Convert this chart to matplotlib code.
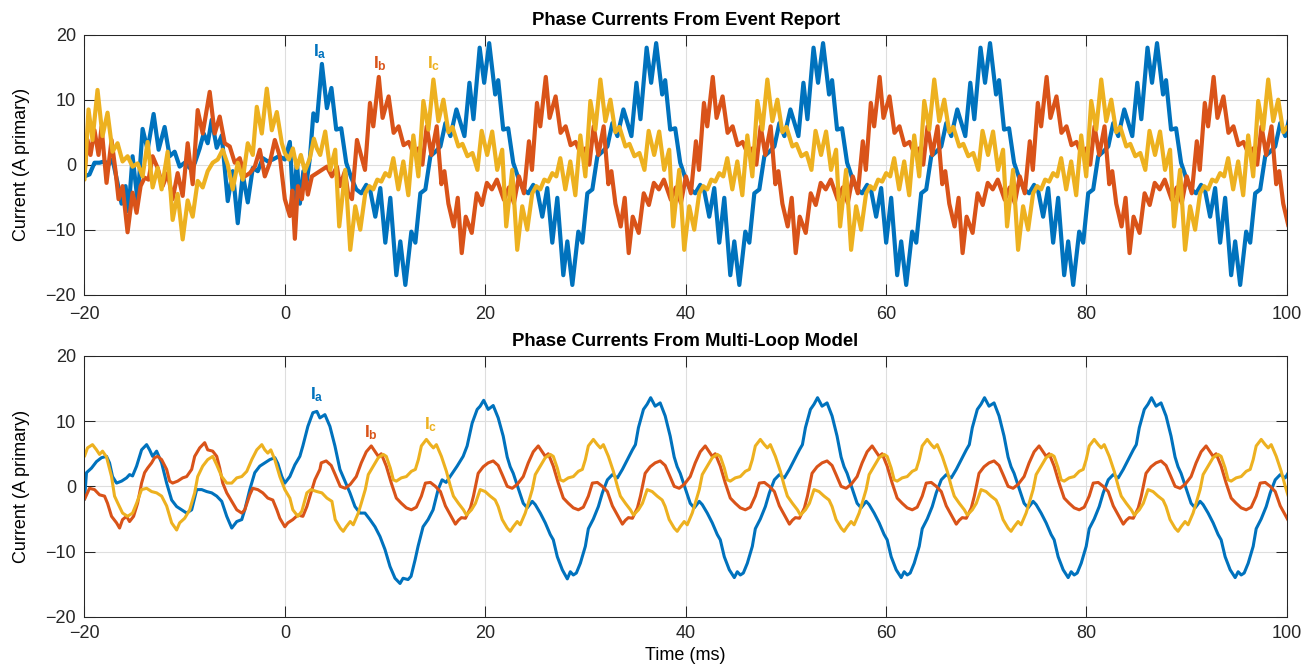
import matplotlib
matplotlib.use("Agg")
import matplotlib.pyplot as plt

plt.rcParams['font.family'] = ['Liberation Sans', 'DejaVu Sans']
plt.rcParams['mathtext.fontset'] = 'custom'
plt.rcParams['mathtext.bf'] = 'Liberation Sans:bold'
plt.rcParams['mathtext.rm'] = 'Liberation Sans'

C_A, C_B, C_C = '#0072BD', '#D95319', '#EDB120'

# ---------------- Top panel: event report (time ms, current A) ----------------
ia_top_t = [
    -20.0, -19.5, -19.0, -18.5, -18.0, -17.6, -17.2, -16.7, -16.3, -15.9, -15.6, -15.2, -14.7, -14.2, -13.7, -13.1,
    -12.6, -12.0, -11.5, -11.0, -10.5, -10.0, -9.5, -9.0, -8.5, -8.1, -7.7, -7.3, -6.8, -6.3, -5.7, -5.2, -4.7, -4.2,
    -3.7, -3.2, -2.7, -2.2, -1.7, -1.2, -0.6, 0.0, 0.5, 0.85, 1.2, 1.5, 1.85, 2.1, 2.5, 2.85, 3.2, 3.7, 4.2, 4.65,
    5.13, 5.63, 6.13, 6.63, 7.13, 7.63, 8.13, 8.53, 9.03, 9.53, 10.03, 10.53, 11.13, 11.53, 12.03, 12.63, 13.03, 13.53,
    14.03, 14.53, 15.03, 15.53, 16.03, 16.53, 17.13, 17.93, 18.43, 18.83,
    19.45, 19.9, 20.4, 21.0, 21.3, 21.8, 22.3, 22.8, 23.3, 23.8, 24.3, 24.8, 25.2, 25.7, 26.2, 26.7, 27.2, 27.8, 28.2,
    28.7, 29.3, 29.7, 30.2, 30.7, 31.2, 31.7, 32.2, 32.7, 33.2, 33.8, 34.6, 35.1, 35.5,
    36.12, 36.57, 37.07, 37.67, 37.97, 38.47, 38.97, 39.47, 39.97, 40.47, 40.97, 41.47, 41.87, 42.37, 42.87, 43.37,
    43.87, 44.47, 44.87, 45.37, 45.97, 46.37, 46.87, 47.37, 47.87, 48.37, 48.87, 49.37, 49.87, 50.47, 51.27, 51.77, 52.17,
    52.78, 53.23, 53.73, 54.33, 54.63, 55.13, 55.63, 56.13, 56.63, 57.13, 57.63, 58.13, 58.53, 59.03, 59.53, 60.03,
    60.53, 61.13, 61.53, 62.03, 62.63, 63.03, 63.53, 64.03, 64.53, 65.03, 65.53, 66.03, 66.53, 67.13, 67.93, 68.43, 68.83,
    69.45, 69.9, 70.4, 71.0, 71.3, 71.8, 72.3, 72.8, 73.3, 73.8, 74.3, 74.8, 75.2, 75.7, 76.2, 76.7, 77.2, 77.8, 78.2,
    78.7, 79.3, 79.7, 80.2, 80.7, 81.2, 81.7, 82.2, 82.7, 83.2, 83.8, 84.6, 85.1, 85.5,
    86.12, 86.57, 87.07, 87.67, 87.97, 88.47, 88.97, 89.47, 89.97, 90.47, 90.97, 91.47, 91.87, 92.37, 92.87, 93.37,
    93.87, 94.47, 94.87, 95.37, 95.97, 96.37, 96.87, 97.37, 97.87, 98.37, 98.87, 99.37, 99.87, 100.47]
ia_top_v = [
    -1.8, -1.5, 0.3, 0.3, 0.5, 0, 0.8, -2.8, -6, -3.3, -7.2, 1.3, -5.6, 5.5, 2.3, 7.8,
    2.3, 5.8, 1.3, 2, -0.3, 0.3, -0.5, 0.2, 2.5, 4.8, 3.3, 6.9, 2.6, 4.5, -5.6, -1, -9, -1.5,
    -5.8, -0.5, -1, 1, 0.5, 0.8, 1.3, 0.8, 3.5, -6.5, 0.5, -6, -1, -3.5, 1, 7.9, 6.7, 15.5, 8.7, 11.8,
    5.4, 5.6, 0.3, -2, -3.8, -4.4, -3.1, -4, -8, -3.6, -12, -5.1, -17, -11.8, -18.5, -10.3, -12, -4.4,
    -3.8, 1.3, 2.0, 2.8, 6.4, 4.4, 8.5, 4.4, 12.6, 7,
    18, 12.6, 18.7, 10.8, 13, 5.4, 5.6, 0.3, -2, -3.8, -4.4, -3.1, -4, -8, -3.6, -12, -5.1, -17, -11.8,
    -18.5, -10.3, -12, -4.4, -3.8, 1.3, 2.0, 2.8, 6.4, 4.4, 8.5, 4.4, 12.6, 7,
    18, 12.6, 18.7, 10.8, 13, 5.4, 5.6, 0.3, -2, -3.8, -4.4, -3.1, -4, -8, -3.6, -12,
    -5.1, -17, -11.8, -18.5, -10.3, -12, -4.4, -3.8, 1.3, 2.0, 2.8, 6.4, 4.4, 8.5, 4.4, 12.6, 7,
    18, 12.6, 18.7, 10.8, 13, 5.4, 5.6, 0.3, -2, -3.8, -4.4, -3.1, -4, -8, -3.6, -12,
    -5.1, -17, -11.8, -18.5, -10.3, -12, -4.4, -3.8, 1.3, 2.0, 2.8, 6.4, 4.4, 8.5, 4.4, 12.6, 7,
    18, 12.6, 18.7, 10.8, 13, 5.4, 5.6, 0.3, -2, -3.8, -4.4, -3.1, -4, -8, -3.6, -12, -5.1, -17, -11.8,
    -18.5, -10.3, -12, -4.4, -3.8, 1.3, 2.0, 2.8, 6.4, 4.4, 8.5, 4.4, 12.6, 7,
    18, 12.6, 18.7, 10.8, 13, 5.4, 5.6, 0.3, -2, -3.8, -4.4, -3.1, -4, -8, -3.6, -12,
    -5.1, -17, -11.8, -18.5, -10.3, -12, -4.4, -3.8, 1.3, 2.0, 2.8, 6.4, 4.4, 8.5]

ib_top_t = [
    -20.0, -19.7, -19.4, -19.0, -18.6, -18.3, -17.8, -17.3, -16.9, -16.6, -16.2, -15.7, -15.2, -14.8, -14.4, -14.0,
    -13.6, -13.2, -12.7, -12.2, -11.7, -11.2, -10.7, -10.2, -9.7, -9.2, -8.7, -8.2, -7.5, -7.0, -6.5, -6.0, -5.5,
    -5.0, -4.5, -4.0, -3.5, -3.0, -2.5, -2.0, -1.5, -1.0, -0.5, 0.0, 0.5, 0.75, 1.0, 1.3, 1.7, 2.0, 2.3, 2.7, 3.2,
    3.7, 4.2, 4.7, 5.2, 5.5, 6.0, 6.3, 6.7, 7.2,
    8.0, 8.5, 8.83, 9.38, 9.76, 10.36, 10.86, 11.36, 11.86, 12.36, 12.83, 13.33, 13.73, 14.16, 14.63, 15.16, 15.63,
    15.93, 16.33, 16.86, 17.26, 17.66, 18.06, 18.66, 19.16,
    19.67, 20.17, 20.67, 21.17, 21.87, 22.37, 22.87, 23.37, 23.87, 24.37, 24.67, 25.17, 25.5, 26.05, 26.43, 27.03,
    27.53, 28.03, 28.53, 29.03, 29.5, 30.0, 30.4, 30.83, 31.3, 31.83, 32.3, 32.6, 33.0, 33.53, 33.93, 34.33, 34.73,
    35.33, 35.83,
    36.34, 36.84, 37.34, 37.84, 38.54, 39.04, 39.54, 40.04, 40.54, 41.04, 41.34, 41.84, 42.17, 42.72, 43.1, 43.7,
    44.2, 44.7, 45.2, 45.7, 46.17, 46.67, 47.07, 47.5, 47.97, 48.5, 48.97, 49.27, 49.67, 50.2, 50.6, 51.0, 51.4,
    52.0, 52.5,
    53.0, 53.5, 54.0, 54.5, 55.2, 55.7, 56.2, 56.7, 57.2, 57.7, 58.0, 58.5, 58.83, 59.38, 59.76, 60.36, 60.86, 61.36,
    61.86, 62.36, 62.83, 63.33, 63.73, 64.16, 64.63, 65.16, 65.63, 65.93, 66.33, 66.86, 67.26, 67.66, 68.06, 68.66,
    69.16,
    69.67, 70.17, 70.67, 71.17, 71.87, 72.37, 72.87, 73.37, 73.87, 74.37, 74.67, 75.17, 75.5, 76.05, 76.43, 77.03,
    77.53, 78.03, 78.53, 79.03, 79.5, 80.0, 80.4, 80.83, 81.3, 81.83, 82.3, 82.6, 83.0, 83.53, 83.93, 84.33, 84.73,
    85.33, 85.83,
    86.34, 86.84, 87.34, 87.84, 88.54, 89.04, 89.54, 90.04, 90.54, 91.04, 91.34, 91.84, 92.17, 92.72, 93.1, 93.7,
    94.2, 94.7, 95.2, 95.7, 96.17, 96.67, 97.07, 97.5, 97.97, 98.5, 98.97, 99.27, 99.67, 100.2]
ib_top_v = [
    -1.3, 3.8, 1.5, 5.3, 1.5, 5.8, -2.8, 3.8, -1, -5.3, -3.3, -10.4, -4.3, -7.4, -3.3, -2,
    -2.3, 1.3, -0.5, -3.3, -1.3, -5.3, -1.3, -4.8, 3.3, -3, 8.4, 4.8, 11.2, 4.8, 7.4, 3.3, 2.8,
    0.3, 1, -1.8, -1.3, -0.3, 2.3, -1.8, 0.3, 3.8, 1.3, -5.3, -7.9, -4, -11.4, -3.3, -5.3, -1.3, -4.6, -1.8, -1.3,
    -0.8, -0.3, -1.8, -0.3, -3.3, -1, -4.3, -5.3, 3.8,
    -0.8, 9.5, 5.9, 13.5, 7.2, 10.5, 4.9, 5.9, 3.0, 3.5, 1.8, 2.5, 0, 5.9, 1.5, 5.9, -3,
    -1, -6, -9.5, -5.1, -13.6, -8, -10.5, -4.4,
    -6.2, -2.8, -3.8, -2.3, -5.4, -3.5, -5.9, -1.8, -4.4, 3.6, -0.8, 9.5, 5.9, 13.5, 7.2, 10.5,
    4.9, 5.9, 3.0, 3.5, 1.8, 2.5, 0, 5.9, 1.5, 5.9, -3, -1, -6, -9.5, -5.1, -13.6, -8,
    -10.5, -4.4,
    -6.2, -2.8, -3.8, -2.3, -5.4, -3.5, -5.9, -1.8, -4.4, 3.6, -0.8, 9.5, 5.9, 13.5, 7.2, 10.5,
    4.9, 5.9, 3.0, 3.5, 1.8, 2.5, 0, 5.9, 1.5, 5.9, -3, -1, -6, -9.5, -5.1, -13.6, -8,
    -10.5, -4.4,
    -6.2, -2.8, -3.8, -2.3, -5.4, -3.5, -5.9, -1.8, -4.4, 3.6, -0.8, 9.5, 5.9, 13.5, 7.2, 10.5, 4.9, 5.9,
    3.0, 3.5, 1.8, 2.5, 0, 5.9, 1.5, 5.9, -3, -1, -6, -9.5, -5.1, -13.6, -8, -10.5,
    -4.4,
    -6.2, -2.8, -3.8, -2.3, -5.4, -3.5, -5.9, -1.8, -4.4, 3.6, -0.8, 9.5, 5.9, 13.5, 7.2, 10.5,
    4.9, 5.9, 3.0, 3.5, 1.8, 2.5, 0, 5.9, 1.5, 5.9, -3, -1, -6, -9.5, -5.1, -13.6, -8,
    -10.5, -4.4,
    -6.2, -2.8, -3.8, -2.3, -5.4, -3.5, -5.9, -1.8, -4.4, 3.6, -0.8, 9.5, 5.9, 13.5, 7.2, 10.5,
    4.9, 5.9, 3.0, 3.5, 1.8, 2.5, 0, 5.9, 1.5, 5.9, -3, -1, -6, -9.5]

ic_top_t = [
    -20.0, -19.6, -19.2, -18.7, -18.2, -17.7, -17.2, -16.7, -16.2, -15.7, -15.2, -14.7, -14.2, -13.7, -13.2, -12.7,
    -12.3, -11.7, -11.2, -10.7, -10.2, -9.7, -9.2, -8.7, -8.2, -7.7, -7.2, -6.7, -6.2, -5.7, -5.2, -4.7, -4.2, -3.7,
    -3.2, -2.8, -2.3, -1.8, -1.3, -0.8, -0.3, 0.0, 0.4, 0.8, 1.2, 1.6, 2.0, 2.5, 2.9, 3.2,
    3.53, 4.03, 4.53, 5.03, 5.43, 6.03, 6.53, 7.03, 7.53, 8.03, 8.43, 8.83, 9.23, 9.63, 10.03, 10.43, 10.83, 11.33,
    11.83, 12.33, 12.83, 13.33, 13.83, 14.33, 14.83, 15.33, 15.83, 16.33, 16.73, 17.33, 17.73, 18.23, 18.73, 19.23,
    19.65, 20.2, 20.7, 21.2, 21.7, 22.1, 22.7, 23.2, 23.7, 24.2, 24.7, 25.1, 25.5, 25.9, 26.3, 26.7, 27.1, 27.5, 28.0,
    28.5, 29.0, 29.5, 30.0, 30.5, 31.0, 31.5, 32.0, 32.5, 33.0, 33.4, 34.0, 34.4, 34.9, 35.4, 35.9,
    36.32, 36.87, 37.37, 37.87, 38.37, 38.77, 39.37, 39.87, 40.37, 40.87, 41.37, 41.77, 42.17, 42.57, 42.97, 43.37,
    43.77, 44.17, 44.67, 45.17, 45.67, 46.17, 46.67, 47.17, 47.67, 48.17, 48.67, 49.17, 49.67, 50.07, 50.67, 51.07,
    51.57, 52.07, 52.57,
    52.98, 53.53, 54.03, 54.53, 55.03, 55.43, 56.03, 56.53, 57.03, 57.53, 58.03, 58.43, 58.83, 59.23, 59.63, 60.03,
    60.43, 60.83, 61.33, 61.83, 62.33, 62.83, 63.33, 63.83, 64.33, 64.83, 65.33, 65.83, 66.33, 66.73, 67.33, 67.73,
    68.23, 68.73, 69.23,
    69.65, 70.2, 70.7, 71.2, 71.7, 72.1, 72.7, 73.2, 73.7, 74.2, 74.7, 75.1, 75.5, 75.9, 76.3, 76.7, 77.1, 77.5, 78.0,
    78.5, 79.0, 79.5, 80.0, 80.5, 81.0, 81.5, 82.0, 82.5, 83.0, 83.4, 84.0, 84.4, 84.9, 85.4, 85.9,
    86.32, 86.87, 87.37, 87.87, 88.37, 88.77, 89.37, 89.87, 90.37, 90.87, 91.37, 91.77, 92.17, 92.57, 92.97, 93.37,
    93.77, 94.17, 94.67, 95.17, 95.67, 96.17, 96.67, 97.17, 97.67, 98.17, 98.67, 99.17, 99.67, 100.07]
ic_top_v = [
    -2.3, 8.5, 3.8, 11.5, 4.4, 8, 2, 3.3, 0.5, 1.3, -0.3, 0.2, -1.8, 3.5, -3.5, -0.5,
    -3.8, 2, -8.5, -4.5, -11.5, -5.5, -8, -2.5, -3.5, -1, 0.3, 0.8, 2.3, 0, -3.8, 0.3, -2.3, 3.3,
    1.5, 8.9, 4.8, 11.7, 5.3, 8.1, 3.3, 1.8, 0.8, 2.5, -0.5, 1.5, -1, 1, 4, 2.5,
    1.5, 5.1, -0.8, 2.3, -9.5, -0.8, -13.1, -6.4, -10, -4.4, -3.3, -3.8, -2.3, -2.6, -1.3, -1.8, 1, -3.8,
    0.5, -4.7, 4.5, -1.8, 9.8, 5.4, 13.1, 6.7, 10, 5, 5.8, 2.8, 3.2, 1.3, 1.8, -0.8,
    5.2, 1.5, 5.1, -0.8, 2.3, -9.5, -0.8, -13.1, -6.4, -10, -4.4, -3.3, -3.8, -2.3, -2.6, -1.3, -1.8, 1, -3.8,
    0.5, -4.7, 4.5, -1.8, 9.8, 5.4, 13.1, 6.7, 10, 5, 5.8, 2.8, 3.2, 1.3, 1.8, -0.8,
    5.2, 1.5, 5.1, -0.8, 2.3, -9.5, -0.8, -13.1, -6.4, -10, -4.4, -3.3, -3.8, -2.3, -2.6, -1.3,
    -1.8, 1, -3.8, 0.5, -4.7, 4.5, -1.8, 9.8, 5.4, 13.1, 6.7, 10, 5, 5.8, 2.8, 3.2,
    1.3, 1.8, -0.8,
    5.2, 1.5, 5.1, -0.8, 2.3, -9.5, -0.8, -13.1, -6.4, -10, -4.4, -3.3, -3.8, -2.3, -2.6, -1.3,
    -1.8, 1, -3.8, 0.5, -4.7, 4.5, -1.8, 9.8, 5.4, 13.1, 6.7, 10, 5, 5.8, 2.8, 3.2,
    1.3, 1.8, -0.8,
    5.2, 1.5, 5.1, -0.8, 2.3, -9.5, -0.8, -13.1, -6.4, -10, -4.4, -3.3, -3.8, -2.3, -2.6, -1.3, -1.8, 1, -3.8,
    0.5, -4.7, 4.5, -1.8, 9.8, 5.4, 13.1, 6.7, 10, 5, 5.8, 2.8, 3.2, 1.3, 1.8, -0.8,
    5.2, 1.5, 5.1, -0.8, 2.3, -9.5, -0.8, -13.1, -6.4, -10, -4.4, -3.3, -3.8, -2.3, -2.6, -1.3,
    -1.8, 1, -3.8, 0.5, -4.7, 4.5, -1.8, 9.8, 5.4, 13.1, 6.7, 10, 5, 5.8]

# ---------------- Bottom panel: multi-loop model ----------------
ia_bot_t = [
    -20.0, -19.8, -19.3, -18.8, -18.3, -17.8, -17.5, -17.2, -16.8, -16.3, -15.8, -15.5, -15.2, -14.8, -14.3, -13.8,
    -13.5, -13.2, -12.8, -12.3, -11.8, -11.3, -10.8, -10.3, -9.8, -9.3, -8.8, -8.3, -7.8, -7.3, -6.8, -6.3, -5.8,
    -5.3, -4.8, -4.3, -4.0, -3.5, -3.0, -2.5, -2.0, -1.5, -1.0, -0.7, -0.3, 0.0, 0.5, 1.0, 1.5, 1.8, 2.3, 2.8, 3.2,
    3.5, 4.0, 4.5, 5.0, 5.5, 6.0, 6.5, 7.0,
    7.5, 8.0, 8.5, 9.0, 9.5, 10.0, 10.5, 11.0, 11.5, 11.8, 12.3, 12.6, 13.0, 13.3, 13.8, 14.3, 14.8, 15.3, 15.7,
    16.1, 16.5, 17.2, 17.8, 18.2, 18.7, 19.2,
    19.5, 19.85, 20.3, 20.8, 21.3, 21.8, 22.2, 22.5, 22.8, 23.3, 23.8, 24.2, 24.7, 25.0, 25.5, 26.0, 26.5, 26.8, 27.2,
    27.7, 28.2, 28.5, 28.8, 29.1, 29.5, 30.0, 30.3, 30.8, 31.3, 31.7, 32.2, 32.7, 33.2, 33.7, 34.2, 34.7, 35.0, 35.3,
    35.8,
    36.17, 36.52, 36.97, 37.47, 37.97, 38.47, 38.87, 39.17, 39.47, 39.97, 40.47, 40.87, 41.37, 41.67, 42.17, 42.67,
    43.17, 43.47, 43.87, 44.37, 44.87, 45.17, 45.47, 45.77, 46.17, 46.67, 46.97, 47.47, 47.97, 48.37, 48.87, 49.37,
    49.87, 50.37, 50.87, 51.37, 51.67, 51.97, 52.47,
    52.83, 53.18, 53.63, 54.13, 54.63, 55.13, 55.53, 55.83, 56.13, 56.63, 57.13, 57.53, 58.03, 58.33, 58.83, 59.33,
    59.83, 60.13, 60.53, 61.03, 61.53, 61.83, 62.13, 62.43, 62.83, 63.33, 63.63, 64.13, 64.63, 65.03, 65.53, 66.03,
    66.53, 67.03, 67.53, 68.03, 68.33, 68.63, 69.13,
    69.5, 69.85, 70.3, 70.8, 71.3, 71.8, 72.2, 72.5, 72.8, 73.3, 73.8, 74.2, 74.7, 75.0, 75.5, 76.0, 76.5, 76.8, 77.2,
    77.7, 78.2, 78.5, 78.8, 79.1, 79.5, 80.0, 80.3, 80.8, 81.3, 81.7, 82.2, 82.7, 83.2, 83.7, 84.2, 84.7, 85.0, 85.3,
    85.8,
    86.17, 86.52, 86.97, 87.47, 87.97, 88.47, 88.87, 89.17, 89.47, 89.97, 90.47, 90.87, 91.37, 91.67, 92.17, 92.67,
    93.17, 93.47, 93.87, 94.37, 94.87, 95.17, 95.47, 95.77, 96.17, 96.67, 96.97, 97.47, 97.97, 98.37, 98.87, 99.37,
    99.87, 100.37]
ia_bot_v = [
    -2.0, 2.1, 2.8, 3.8, 4.4, 4.6, 3.6, 1.5, 0.5, 0.8, 1.3, 1.8, 1.6, 3.1, 5.6, 6.4,
    5.6, 4.6, 5.4, 3.6, 0.5, -2.1, -3.1, -3.6, -4.1, -3.6, -0.5, -0.5, -0.8, -1, -1.5, -2.3, -4.6,
    -6.4, -5.4, -5.1, -3.6, -0.5, 2.1, 3.1, 3.6, 4.1, 4.4, 3.5, 1.5, 0.5, 1.5, 3.3, 4.6, 6.2, 9.2, 11.3, 11.5,
    10.5, 11, 9.2, 6.2, 2.6, 0.8, -1, -3.1,
    -4.1, -4.1, -5.1, -6.2, -7.7, -9.7, -12.3, -14.1, -14.9, -14.1, -14.3, -13.8, -11.3, -9.2, -6.2, -5.1, -3.6, -0.5, 1,
    0.6, 1.5, 3.1, 4.6, 6.2, 9.7, 11.8,
    12.3, 13.2, 11.8, 12.4, 10.5, 7.7, 4.5, 3, 2, -0.3, -2.6, -3.3, -2.3, -2.8, -4.1, -5.6, -7.4, -8.2, -10.8,
    -12.8, -14.2, -13.1, -13.6, -13.3, -11.8, -9.2, -6.5, -5, -3.1, -1, 1, 1.8, 1.3, 2.6, 4.1, 5.6, 6.4, 9,
    11.8,
    12.6, 13.6, 12.3, 12.8, 10.8, 7.7, 4.5, 3, 2, -0.3, -2.6, -3.3, -2.3, -2.8, -4.1, -5.6,
    -7.4, -8.2, -10.8, -12.8, -14.0, -13.1, -13.6, -13.3, -11.8, -9.2, -6.5, -5, -3.1, -1, 1, 1.8,
    1.3, 2.6, 4.1, 5.6, 6.4, 9, 11.8,
    12.6, 13.6, 12.3, 12.8, 10.8, 7.7, 4.5, 3, 2, -0.3, -2.6, -3.3, -2.3, -2.8, -4.1, -5.6,
    -7.4, -8.2, -10.8, -12.8, -14.0, -13.1, -13.6, -13.3, -11.8, -9.2, -6.5, -5, -3.1, -1, 1, 1.8,
    1.3, 2.6, 4.1, 5.6, 6.4, 9, 11.8,
    12.6, 13.6, 12.3, 12.8, 10.8, 7.7, 4.5, 3, 2, -0.3, -2.6, -3.3, -2.3, -2.8, -4.1, -5.6, -7.4, -8.2, -10.8,
    -12.8, -14.0, -13.1, -13.6, -13.3, -11.8, -9.2, -6.5, -5, -3.1, -1, 1, 1.8, 1.3, 2.6, 4.1, 5.6, 6.4, 9,
    11.8,
    12.6, 13.6, 12.3, 12.8, 10.8, 7.7, 4.5, 3, 2, -0.3, -2.6, -3.3, -2.3, -2.8, -4.1, -5.6,
    -7.4, -8.2, -10.8, -12.8, -14.0, -13.1, -13.6, -13.3, -11.8, -9.2, -6.5, -5, -3.1, -1, 1, 1.8,
    1.3, 2.6]

ib_bot_t = [
    -20.0, -19.5, -19.0, -18.5, -18.0, -17.7, -17.3, -16.8, -16.5, -16.2, -15.8, -15.5, -15.1, -14.7, -14.3, -14.0,
    -13.7, -13.3, -13.0, -12.7, -12.3, -11.8, -11.5, -11.2, -10.7, -10.2, -9.8, -9.3, -9.0, -8.5, -8.0, -7.7, -7.2,
    -6.8, -6.5, -6.2, -5.8, -5.3, -4.8, -4.3, -4.0, -3.5, -3.2, -2.7, -2.2, -1.7, -1.2, -0.8, -0.5, 0.0, 0.3, 0.8,
    1.3, 1.8, 2.2, 2.7, 3.0, 3.5,
    3.63, 4.13, 4.63, 5.03, 5.53, 6.03, 6.53, 7.13, 7.63, 8.13, 8.63, 9.03, 9.33, 9.63, 10.13, 10.63, 11.13, 11.63,
    12.13, 12.63, 13.13, 13.63, 14.03, 14.53, 15.03, 15.53, 16.03, 16.53, 17.03, 17.33, 17.63, 18.03, 18.53, 18.83,
    19.3, 19.8, 20.3, 20.8, 21.3, 21.7, 22.2, 22.7, 23.2, 23.8, 24.3, 24.8, 25.3, 25.7, 26.0, 26.3, 26.8, 27.3,
    27.8, 28.3, 28.8, 29.3, 29.8, 30.3, 30.7, 31.2, 31.7, 32.2, 32.7, 33.2, 33.7, 34.0, 34.3, 34.7, 35.2, 35.5,
    35.97, 36.47, 36.97, 37.47, 37.97, 38.37, 38.87, 39.37, 39.87, 40.47, 40.97, 41.47, 41.97, 42.37, 42.67, 42.97,
    43.47, 43.97, 44.47, 44.97, 45.47, 45.97, 46.47, 46.97, 47.37, 47.87, 48.37, 48.87, 49.37, 49.87, 50.37, 50.67,
    50.97, 51.37, 51.87, 52.17,
    52.63, 53.13, 53.63, 54.13, 54.63, 55.03, 55.53, 56.03, 56.53, 57.13, 57.63, 58.13, 58.63, 59.03, 59.33, 59.63,
    60.13, 60.63, 61.13, 61.63, 62.13, 62.63, 63.13, 63.63, 64.03, 64.53, 65.03, 65.53, 66.03, 66.53, 67.03, 67.33,
    67.63, 68.03, 68.53, 68.83,
    69.3, 69.8, 70.3, 70.8, 71.3, 71.7, 72.2, 72.7, 73.2, 73.8, 74.3, 74.8, 75.3, 75.7, 76.0, 76.3, 76.8, 77.3,
    77.8, 78.3, 78.8, 79.3, 79.8, 80.3, 80.7, 81.2, 81.7, 82.2, 82.7, 83.2, 83.7, 84.0, 84.3, 84.7, 85.2, 85.5,
    85.97, 86.47, 86.97, 87.47, 87.97, 88.37, 88.87, 89.37, 89.87, 90.47, 90.97, 91.47, 91.97, 92.37, 92.67, 92.97,
    93.47, 93.97, 94.47, 94.97, 95.47, 95.97, 96.47, 96.97, 97.37, 97.87, 98.37, 98.87, 99.37, 99.87, 100.37]
ib_bot_v = [
    -2, -0.3, -0.5, -1.3, -1.5, -2.6, -4.6, -5.6, -6.4, -5.1, -4.6, -5.4, -4.6, -2.6, 0.5, 2.1,
    2.8, 3.6, 4.4, 4.6, 4.1, 2.6, 0.8, 0.5, 0.8, 1.3, 1.5, 2.6, 4.6, 5.9, 6.7, 5.6, 5.4,
    4.6, 2.8, 0.5, -1, -2.3, -3.6, -4.1, -3.6, -1.3, -0.3, -0.5, -1, -1.8, -2.1, -3.6, -4.9, -6.2, -5.6, -5.1,
    -4.4, -4.6, -3.1, -0.5, 1, 2.6,
    3.6, 3.9, 3.2, 1.8, 0, -0.3, 0.3, 1.5, 3.6, 5.3, 6.2, 5.3, 4.6, 5, 3.1, 0.5, -1.8, -2.6,
    -3.3, -3.6, -3.2, -1.5, 0.5, 0.6, 0, -0.8, -3, -4.4, -5.8, -5.2, -4.8, -4.9, -3.3, -1.5,
    2, 3, 3.6, 3.9, 3.2, 1.8, 0, -0.3, 0.3, 1.5, 3.6, 5.3, 6.2, 5.3, 4.6, 5, 3.1, 0.5,
    -1.8, -2.6, -3.3, -3.6, -3.2, -1.5, 0.5, 0.6, 0, -0.8, -3, -4.4, -5.8, -5.2, -4.8, -4.9, -3.3, -1.5,
    2, 3, 3.6, 3.9, 3.2, 1.8, 0, -0.3, 0.3, 1.5, 3.6, 5.3, 6.2, 5.3, 4.6, 5,
    3.1, 0.5, -1.8, -2.6, -3.3, -3.6, -3.2, -1.5, 0.5, 0.6, 0, -0.8, -3, -4.4, -5.8, -5.2,
    -4.8, -4.9, -3.3, -1.5,
    2, 3, 3.6, 3.9, 3.2, 1.8, 0, -0.3, 0.3, 1.5, 3.6, 5.3, 6.2, 5.3, 4.6, 5,
    3.1, 0.5, -1.8, -2.6, -3.3, -3.6, -3.2, -1.5, 0.5, 0.6, 0, -0.8, -3, -4.4, -5.8, -5.2,
    -4.8, -4.9, -3.3, -1.5,
    2, 3, 3.6, 3.9, 3.2, 1.8, 0, -0.3, 0.3, 1.5, 3.6, 5.3, 6.2, 5.3, 4.6, 5, 3.1, 0.5,
    -1.8, -2.6, -3.3, -3.6, -3.2, -1.5, 0.5, 0.6, 0, -0.8, -3, -4.4, -5.8, -5.2, -4.8, -4.9, -3.3, -1.5,
    2, 3, 3.6, 3.9, 3.2, 1.8, 0, -0.3, 0.3, 1.5, 3.6, 5.3, 6.2, 5.3, 4.6, 5,
    3.1, 0.5, -1.8, -2.6, -3.3, -3.6, -3.2, -1.5, 0.5, 0.6, 0, -0.8, -3, -4.4, -5.8]

ic_bot_t = [
    -20.0, -19.7, -19.2, -18.8, -18.5, -18.2, -17.8, -17.3, -17.0, -16.7, -16.2, -15.7, -15.2, -14.8, -14.3, -13.8,
    -13.3, -12.8, -12.3, -11.8, -11.3, -10.8, -10.5, -10.0, -9.5, -9.0, -8.7, -8.2, -7.7, -7.2, -6.8, -6.3, -5.8,
    -5.3, -4.8, -4.3, -3.8, -3.3, -2.8, -2.3, -2.0, -1.7, -1.4, -1.0, -0.5, 0.0, 0.5, 0.8, 1.3, 1.7, 2.2, 2.6, 3.2,
    3.7, 4.2, 4.7,
    5.03, 5.53, 5.83, 6.13, 6.53, 6.83, 7.33, 7.63, 8.03, 8.33, 8.83, 9.33, 9.83, 10.13, 10.53, 10.83, 11.13, 11.63,
    12.13, 12.63, 13.03, 13.33, 13.63, 14.13, 14.53, 14.83, 15.13, 15.63, 16.13, 16.53, 16.83, 17.33, 17.83, 18.13,
    18.63, 19.03,
    19.5, 20.0, 20.5, 21.0, 21.3, 21.7, 22.2, 22.5, 22.8, 23.2, 23.5, 24.0, 24.3, 24.7, 25.0, 25.5, 26.0, 26.5, 26.8,
    27.2, 27.5, 27.8, 28.3, 28.8, 29.3, 29.7, 30.0, 30.3, 30.8, 31.2, 31.5, 31.8, 32.3, 32.8, 33.2, 33.5, 34.0, 34.5,
    34.8, 35.3, 35.7,
    36.17, 36.67, 37.17, 37.67, 37.97, 38.37, 38.87, 39.17, 39.47, 39.87, 40.17, 40.67, 40.97, 41.37, 41.67, 42.17,
    42.67, 43.17, 43.47, 43.87, 44.17, 44.47, 44.97, 45.47, 45.97, 46.37, 46.67, 46.97, 47.47, 47.87, 48.17, 48.47,
    48.97, 49.47, 49.87, 50.17, 50.67, 51.17, 51.47, 51.97, 52.37,
    52.83, 53.33, 53.83, 54.33, 54.63, 55.03, 55.53, 55.83, 56.13, 56.53, 56.83, 57.33, 57.63, 58.03, 58.33, 58.83,
    59.33, 59.83, 60.13, 60.53, 60.83, 61.13, 61.63, 62.13, 62.63, 63.03, 63.33, 63.63, 64.13, 64.53, 64.83, 65.13,
    65.63, 66.13, 66.53, 66.83, 67.33, 67.83, 68.13, 68.63, 69.03,
    69.5, 70.0, 70.5, 71.0, 71.3, 71.7, 72.2, 72.5, 72.8, 73.2, 73.5, 74.0, 74.3, 74.7, 75.0, 75.5, 76.0, 76.5, 76.8,
    77.2, 77.5, 77.8, 78.3, 78.8, 79.3, 79.7, 80.0, 80.3, 80.8, 81.2, 81.5, 81.8, 82.3, 82.8, 83.2, 83.5, 84.0, 84.5,
    84.8, 85.3, 85.7,
    86.17, 86.67, 87.17, 87.67, 87.97, 88.37, 88.87, 89.17, 89.47, 89.87, 90.17, 90.67, 90.97, 91.37, 91.67, 92.17,
    92.67, 93.17, 93.47, 93.87, 94.17, 94.47, 94.97, 95.47, 95.97, 96.37, 96.67, 96.97, 97.47, 97.87, 98.17, 98.47,
    98.97, 99.47, 99.87, 100.17]
ic_bot_v = [
    4.6, 5.9, 6.4, 5.6, 4.9, 5.4, 4.5, 1.5, -1.5, -2.5, -4.1, -4.6, -4.1, -2.6, -0.5, -0.3,
    -0.8, -1, -1.5, -3, -5.6, -6.7, -5.6, -4.9, -3.6, -1, 1.5, 3.1, 4.1, 4.6, 3.3, 1.5, 0.5,
    0.5, 1.3, 1.5, 2.3, 4.1, 5.6, 6.4, 5.6, 5.1, 5.6, 4.1, 1.5, -0.5, -1.8, -3.6, -4.6, -3.8, -1, -0.5, -0.8,
    -1, -1.8, -2.3,
    -5.1, -6.4, -6.9, -6.2, -5.4, -5.9, -4.1, -2.6, -0.5, 1.8, 3.1, 4.4, 4.9, 4.6, 2.8, 1, 0.8, 1.3,
    1.5, 2.3, 2.6, 4.1, 6.2, 7.2, 6.4, 5.9, 6.4, 4.6, 2.3, 0, -1.5, -2.6, -3.6, -4.4,
    -3.6, -2.6,
    -0.5, -0.8, -1.5, -2.1, -3.1, -5.1, -6.4, -6.9, -6.2, -5.4, -5.9, -4.1, -2.6, -0.5, 1.8, 3.1, 4.4, 4.9, 4.6,
    2.8, 1, 0.8, 1.3, 1.5, 2.3, 2.6, 4.1, 6.2, 7.2, 6.4, 5.9, 6.4, 4.6, 2.3, 0, -1.5, -2.6, -3.6,
    -4.4, -3.6, -2.6,
    -0.5, -0.8, -1.5, -2.1, -3.1, -5.1, -6.4, -6.9, -6.2, -5.4, -5.9, -4.1, -2.6, -0.5, 1.8, 3.1,
    4.4, 4.9, 4.6, 2.8, 1, 0.8, 1.3, 1.5, 2.3, 2.6, 4.1, 6.2, 7.2, 6.4, 5.9, 6.4,
    4.6, 2.3, 0, -1.5, -2.6, -3.6, -4.4, -3.6, -2.6,
    -0.5, -0.8, -1.5, -2.1, -3.1, -5.1, -6.4, -6.9, -6.2, -5.4, -5.9, -4.1, -2.6, -0.5, 1.8, 3.1,
    4.4, 4.9, 4.6, 2.8, 1, 0.8, 1.3, 1.5, 2.3, 2.6, 4.1, 6.2, 7.2, 6.4, 5.9, 6.4,
    4.6, 2.3, 0, -1.5, -2.6, -3.6, -4.4, -3.6, -2.6,
    -0.5, -0.8, -1.5, -2.1, -3.1, -5.1, -6.4, -6.9, -6.2, -5.4, -5.9, -4.1, -2.6, -0.5, 1.8, 3.1, 4.4, 4.9, 4.6,
    2.8, 1, 0.8, 1.3, 1.5, 2.3, 2.6, 4.1, 6.2, 7.2, 6.4, 5.9, 6.4, 4.6, 2.3, 0, -1.5, -2.6, -3.6,
    -4.4, -3.6, -2.6,
    -0.5, -0.8, -1.5, -2.1, -3.1, -5.1, -6.4, -6.9, -6.2, -5.4, -5.9, -4.1, -2.6, -0.5, 1.8, 3.1,
    4.4, 4.9, 4.6, 2.8, 1, 0.8, 1.3, 1.5, 2.3, 2.6, 4.1, 6.2, 7.2, 6.4, 5.9, 6.4,
    4.6, 2.3, 0, -1.5]

titles = ['Phase Currents From Event Report', 'Phase Currents From Multi-Loop Model']
phase_labels = [r'$\mathbf{I_a}$', r'$\mathbf{I_b}$', r'$\mathbf{I_c}$']
label_pos_top = [(2.85, 16.6), (8.85, 14.8), (14.15, 14.8)]
label_pos_bot = [(2.55, 13.3), (7.9, 7.6), (13.9, 8.7)]
x_ticks = [-20, 0, 20, 40, 60, 80, 100]
y_ticks = [-20, -10, 0, 10, 20]

panels = [
    [(ia_top_t, ia_top_v), (ib_top_t, ib_top_v), (ic_top_t, ic_top_v)],
    [(ia_bot_t, ia_bot_v), (ib_bot_t, ib_bot_v), (ic_bot_t, ic_bot_v)],
]
for series in panels:
    for t, v in series:
        if len(t) != len(v):
            raise ValueError(f"length mismatch {len(t)} vs {len(v)}")

fig = plt.figure(figsize=(13.12, 6.67), dpi=100)
ax_top = fig.add_axes([0.0644, 0.5582, 0.9162, 0.3898])
ax_bot = fig.add_axes([0.0644, 0.0754, 0.9162, 0.3909])

edge = '#262626'
for ax, series, title, lpos, lw in [
        (ax_top, panels[0], titles[0], label_pos_top, 3.0),
        (ax_bot, panels[1], titles[1], label_pos_bot, 2.2)]:
    for (t, v), col in zip(series, [C_A, C_B, C_C]):
        ax.plot(t, v, color=col, lw=lw, solid_joinstyle='round', solid_capstyle='round')
    for (x, y), lab, col in zip(lpos, phase_labels, [C_A, C_B, C_C]):
        ax.text(x, y, lab, color=col, fontsize=12.5, ha='left', va='baseline')
    ax.set_xlim(-20, 100)
    ax.set_ylim(-20, 20)
    ax.set_xticks(x_ticks)
    ax.set_yticks(y_ticks)
    ax.grid(True, color='#dedede', lw=0.8)
    ax.set_axisbelow(True)
    ax.tick_params(direction='in', length=8, width=0.75, top=True, right=True,
                   labelsize=13, colors=edge, pad=6)
    for s in ax.spines.values():
        s.set_color(edge)
        s.set_linewidth(0.75)
    ax.set_title(title, fontsize=13.3, fontweight='bold', pad=7, color='black')
    ax.set_ylabel('Current (A primary)', fontsize=13, color='black')
    ax.yaxis.set_label_coords(-0.045, 0.5)

ax_top.tick_params(axis='x', pad=8)
ax_bot.set_xlabel('Time (ms)', fontsize=13, color='black')
ax_bot.xaxis.set_label_coords(0.5, -0.115)

fig.savefig('out.png', dpi=100)
